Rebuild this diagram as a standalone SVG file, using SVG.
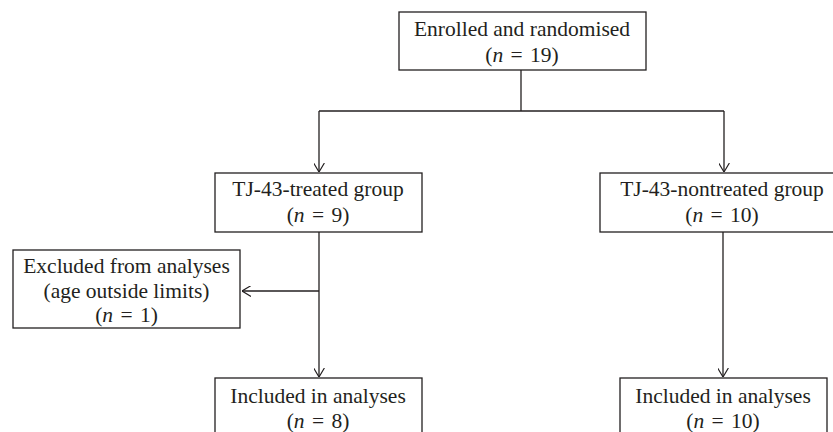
<svg xmlns="http://www.w3.org/2000/svg" width="833" height="432" viewBox="0 0 833 432">
<defs>
<style>
.box{fill:#fff;stroke:#231f20;stroke-width:1.3}
.t{font-family:"Liberation Serif","Times New Roman",serif;font-size:21.5px;fill:#231f20;text-anchor:middle}
.i{font-style:italic}
.c{fill:none;stroke:#231f20;stroke-width:1.3}
</style>
<marker id="ah" viewBox="0 0 10 12" refX="10" refY="6" markerWidth="9" markerHeight="11" markerUnits="userSpaceOnUse" orient="auto">
<path d="M0,0 L10,6 L0,12" fill="none" stroke="#231f20" stroke-width="1.3"/>
</marker>
</defs>
<rect width="833" height="432" fill="#fff"/>
<g id="connectors">
<path class="c" d="M521,70 V111"/>
<path class="c" d="M319,111 H724"/>
<path class="c" d="M319,111 V172" marker-end="url(#ah)"/>
<path class="c" d="M724,111 V172" marker-end="url(#ah)"/>
<path class="c" d="M319,232 V377" marker-end="url(#ah)"/>
<path class="c" d="M319,291 H242" marker-end="url(#ah)"/>
<path class="c" d="M723,232 V377" marker-end="url(#ah)"/>
</g>
<g id="enrolled">
<rect class="box" x="399" y="12" width="247" height="58"/>
<text class="t" x="522" y="36">Enrolled and randomised</text>
<text class="t" x="522" y="62">(<tspan class="i">n</tspan><tspan dx="2"> = </tspan><tspan dx="2">19)</tspan></text>
</g>
<g id="treated">
<rect class="box" x="215" y="173" width="207" height="59"/>
<text class="t" x="318" y="196">TJ-43-treated group</text>
<text class="t" x="318" y="222">(<tspan class="i">n</tspan><tspan dx="2"> = </tspan><tspan dx="2">9)</tspan></text>
</g>
<g id="nontreated">
<rect class="box" x="600" y="173" width="248" height="59"/>
<text class="t" x="722" y="196">TJ-43-nontreated group</text>
<text class="t" x="722" y="222">(<tspan class="i">n</tspan><tspan dx="2"> = </tspan><tspan dx="2">10)</tspan></text>
</g>
<g id="excluded">
<rect class="box" x="13" y="250" width="227" height="78"/>
<text class="t" x="126.5" y="273">Excluded from analyses</text>
<text class="t" x="126.5" y="298">(age outside limits)</text>
<text class="t" x="126.5" y="322">(<tspan class="i">n</tspan><tspan dx="2"> = </tspan><tspan dx="2">1)</tspan></text>
</g>
<g id="included-treated">
<rect class="box" x="215" y="378" width="207" height="70"/>
<text class="t" x="318" y="403">Included in analyses</text>
<text class="t" x="318" y="428">(<tspan class="i">n</tspan><tspan dx="2"> = </tspan><tspan dx="2">8)</tspan></text>
</g>
<g id="included-nontreated">
<rect class="box" x="620" y="378" width="207" height="70"/>
<text class="t" x="723" y="403">Included in analyses</text>
<text class="t" x="723" y="428">(<tspan class="i">n</tspan><tspan dx="2"> = </tspan><tspan dx="2">10)</tspan></text>
</g>
</svg>
